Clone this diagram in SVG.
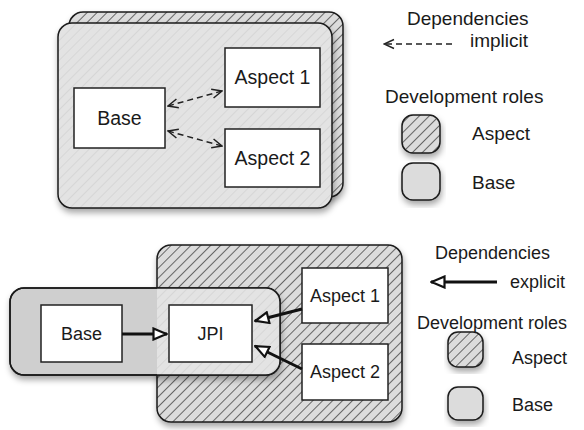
<svg xmlns="http://www.w3.org/2000/svg" width="584" height="430" viewBox="0 0 584 430">
<defs>
<pattern id="hatch" patternUnits="userSpaceOnUse" width="7" height="7" patternTransform="rotate(45)">
<rect width="7" height="7" fill="#dcdcdc"/>
<line x1="0" y1="0" x2="0" y2="7" stroke="#262626" stroke-width="1.3"/>
</pattern>
<pattern id="hatchFaint" patternUnits="userSpaceOnUse" width="7" height="7" patternTransform="rotate(45)">
<rect width="7" height="7" fill="#e3e3e3"/>
<line x1="0" y1="0" x2="0" y2="7" stroke="#cacaca" stroke-width="1"/>
</pattern>
<filter id="shadow" x="-10%" y="-10%" width="125%" height="130%">
<feDropShadow dx="1" dy="4" stdDeviation="3" flood-color="#000" flood-opacity="0.35"/>
</filter>
<marker id="vhead" viewBox="0 0 12 12" refX="11" refY="6" markerWidth="12" markerHeight="12" markerUnits="userSpaceOnUse" orient="auto-start-reverse">
<path d="M1,1.5 L11,6 L1,10.5" fill="none" stroke="#222" stroke-width="1.5"/>
</marker>
<marker id="tri" viewBox="0 0 16 14" refX="15" refY="7" markerWidth="16" markerHeight="14" markerUnits="userSpaceOnUse" orient="auto">
<path d="M1.5,1.5 L14.5,7 L1.5,12.5 Z" fill="#fff" stroke="#111" stroke-width="2.2"/>
</marker>
<clipPath id="overlap"><rect x="10" y="288" width="270" height="87" rx="14"/></clipPath>
</defs>
<style>
.role{stroke:#1a1a1a;stroke-width:1.5}
.box{fill:#fff;stroke:#222;stroke-width:1.5}
.t{font-family:"Liberation Sans",Arial,sans-serif;fill:#1a1a1a}
.lbl{font-size:19.5px;text-anchor:middle}
.lbl2{font-size:18px;text-anchor:middle}
.leg{font-size:19px}
.leg2{font-size:18px}
.dash{fill:none;stroke:#222;stroke-width:1.5;stroke-dasharray:6,4}
.solid{fill:none;stroke:#111;stroke-width:3}
</style>

<g id="top-aspect-role">
<rect x="69" y="12" width="274" height="185" rx="14" fill="url(#hatch)" class="role" filter="url(#shadow)"/>
</g>
<g id="top-base-role">
<rect x="58" y="23" width="274" height="185" rx="14" fill="url(#hatchFaint)" class="role" filter="url(#shadow)"/>
</g>
<g id="top-base">
<rect x="74" y="88" width="91" height="60" class="box"/>
<text x="119.5" y="125" class="t lbl">Base</text>
</g>
<g id="top-aspect1">
<rect x="225" y="48" width="95" height="59" class="box"/>
<text x="272.5" y="84" class="t lbl">Aspect 1</text>
</g>
<g id="top-aspect2">
<rect x="225" y="129" width="95" height="58" class="box"/>
<text x="272.5" y="165" class="t lbl">Aspect 2</text>
</g>

<g id="bottom-aspect-role">
<rect x="157" y="245" width="245" height="177" rx="14" fill="url(#hatch)" class="role" filter="url(#shadow)"/>
</g>
<g id="bottom-base-role">
<rect x="10" y="288" width="270" height="87" rx="14" fill="#cfcfcf" class="role" filter="url(#shadow)"/>
<rect x="157" y="288" width="130" height="90" fill="url(#hatchFaint)" clip-path="url(#overlap)"/>
<rect x="10" y="288" width="270" height="87" rx="14" fill="none" class="role"/>
</g>
<g id="bottom-base">
<rect x="41" y="305" width="81" height="57" class="box"/>
<text x="81.5" y="340" class="t lbl2">Base</text>
</g>
<g id="bottom-jpi">
<rect x="169" y="305" width="83" height="57" class="box"/>
<text x="210.5" y="340" class="t lbl2">JPI</text>
</g>
<g id="bottom-aspect1">
<rect x="302" y="268" width="86" height="55" class="box"/>
<text x="345" y="302" class="t lbl2">Aspect 1</text>
</g>
<g id="bottom-aspect2">
<rect x="302" y="344" width="86" height="56" class="box"/>
<text x="345" y="378" class="t lbl2">Aspect 2</text>
</g>

<g id="connectors">
<line x1="168" y1="106" x2="222" y2="91" class="dash" marker-start="url(#vhead)" marker-end="url(#vhead)"/>
<line x1="168" y1="131" x2="222" y2="146" class="dash" marker-start="url(#vhead)" marker-end="url(#vhead)"/>
<line x1="122" y1="334" x2="167" y2="334" class="solid" marker-end="url(#tri)"/>
<line x1="302" y1="309" x2="255" y2="321" class="solid" marker-end="url(#tri)"/>
<line x1="302" y1="369" x2="255" y2="346" class="solid" marker-end="url(#tri)"/>
</g>

<g id="legend-top">
<text x="407" y="25" class="t leg">Dependencies</text>
<line x1="452" y1="44" x2="384" y2="44" class="dash" marker-end="url(#vhead)"/>
<text x="470" y="47" class="t leg">implicit</text>
<text x="385" y="103" class="t leg">Development roles</text>
<rect x="402" y="115" width="38" height="38" rx="11" fill="url(#hatch)" class="role" filter="url(#shadow)"/>
<text x="472" y="140" class="t leg">Aspect</text>
<rect x="402" y="163" width="38" height="37" rx="11" fill="#dcdcdc" class="role" filter="url(#shadow)"/>
<text x="472" y="189" class="t leg">Base</text>
</g>

<g id="legend-bottom">
<text x="435" y="259" class="t leg2">Dependencies</text>
<line x1="497" y1="282" x2="431" y2="282" class="solid" marker-end="url(#tri)"/>
<text x="510" y="288" class="t leg2">explicit</text>
<text x="417" y="329" class="t leg2">Development roles</text>
<rect x="448" y="332" width="35" height="35" rx="10" fill="url(#hatch)" class="role" filter="url(#shadow)"/>
<text x="512" y="364" class="t leg2">Aspect</text>
<rect x="448" y="387" width="35" height="33" rx="10" fill="#dcdcdc" class="role" filter="url(#shadow)"/>
<text x="512" y="411" class="t leg2">Base</text>
</g>
</svg>
